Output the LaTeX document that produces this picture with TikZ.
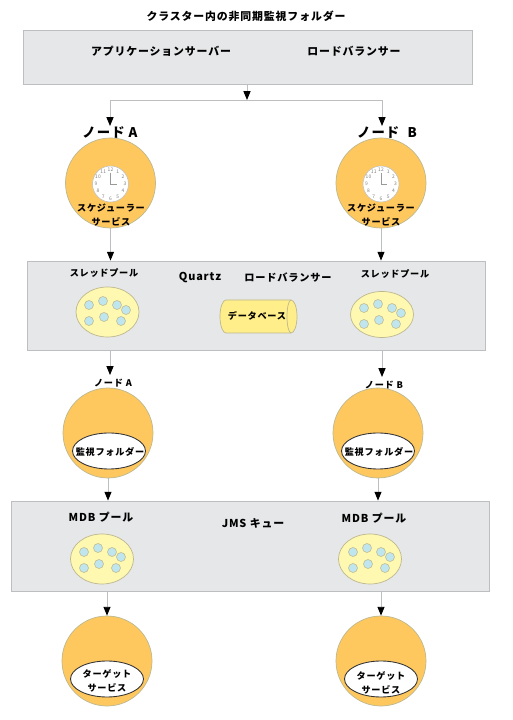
\documentclass[tikz,border=0pt]{standalone}
\usepackage{fontspec}
\setmainfont{Noto Sans CJK JP}[LetterSpace=8]
\usetikzlibrary{arrows.meta,shapes.geometric}

\def\px{0.02cm}
\definecolor{panelgray}{HTML}{E6E7E8}
\definecolor{edgegray}{HTML}{BCBEC0}
\definecolor{serviceorange}{HTML}{FFC85F}
\definecolor{poolyellow}{HTML}{FFF8B0}
\definecolor{ballblue}{HTML}{BFE6EE}
\definecolor{dbyellow}{HTML}{FFEE8A}
\definecolor{softedge}{HTML}{BDB88F}

\tikzset{
  panel/.style={draw=edgegray,fill=panelgray,line width=0.5pt,inner sep=0pt},
  service/.style={circle,draw=softedge,fill=serviceorange,line width=0.4pt,minimum size=90*\px,inner sep=0pt},
  window/.style={ellipse,draw=black!80,fill=white,line width=0.5pt,minimum width=73*\px,minimum height=36*\px,inner sep=0pt},
  pool/.style={ellipse,draw=softedge,fill=poolyellow,line width=0.4pt,minimum width=63*\px,inner sep=0pt},
  ball/.style={circle,draw=softedge,fill=ballblue,line width=0.3pt,minimum size=9*\px,inner sep=0pt},
  label/.style={inner sep=0pt,font=\fontsize{6.2}{8}\selectfont\bfseries},
  small/.style={inner sep=0pt,align=center,font=\fontsize{5.2}{7.6}\selectfont\bfseries},
  clocknum/.style={inner sep=0pt,text=gray,font=\fontsize{2.8}{3}\selectfont},
  link/.style={draw=edgegray,line width=0.5pt},
  flow/.style={link,-{Triangle[black,fill=black,length=5pt,width=4pt]}}
}

% seven threads around one point
\newcommand{\ballset}[3]{
  \foreach \bx/\by [count=\bi] in {-18/-7,-4/-11,10/-7,19/-2,-18/9,-3/5,14/9}
    \node [ball] (#1\bi) at (#2+\bx,#3-\by) {};
}
% clock face with hands
\newcommand{\clockface}[3]{
  \node [circle,fill=white,draw=edgegray,line width=0.3pt,minimum size=36*\px,inner sep=0pt] (#1) at (#2,#3) {};
  \foreach \h in {1,...,12}
    \node [clocknum] (#1num\h) at ({#2+14.5*sin(\h*30)},{#3+14.5*cos(\h*30)}) {\h};
  \coordinate (#1up) at (#2,#3+11);
  \coordinate (#1hand) at (#2+6,#3);
  \draw [gray!80,line width=0.4pt] (#1up) -- (#1.center) -- (#1hand);
}

\begin{document}
\begin{tikzpicture}[x=\px,y=\px]
\useasboundingbox (0,0) rectangle (512,720);
\fill [white] (0,0) rectangle (512,720);

\node [label] (title) at (246,704) {クラスター内の非同期監視フォルダー};

% application tier
\node [panel,minimum width=449*\px,minimum height=54*\px] (appbox) at (247.5,663) {};
\node [label] (appserver) at (161,669) {アプリケーションサーバー};
\node [label] (appbalancer) at (354,669) {ロードバランサー};
\coordinate (split) at (247,620);

\node [inner sep=0pt,font=\fontsize{7.6}{10}\selectfont\bfseries] (nodeA) at (110,587) {ノード A};
\node [inner sep=0pt,font=\fontsize{7.6}{10}\selectfont\bfseries] (nodeB) at (387,587) {ノード\ \ B};
\coordinate (topA) at (110,594);
\coordinate (topB) at (382,594);
\draw [flow] (appbox.south -| split) -- (split);
\draw [flow] (split) -| (topA);
\draw [flow] (split) -| (topB);

% scheduler services
\node [service] (schedA) at (110.5,537) {};
\node [service] (schedB) at (381,537) {};
\clockface{clockA}{110.5}{536}
\clockface{clockB}{381}{536}
\node [small] (schedtextA) at (111,505) {スケジューラー\\サービス};
\node [small] (schedtextB) at (381,505) {スケジューラー\\サービス};

% quartz tier
\node [panel,minimum width=458*\px,minimum height=89*\px] (quartzbox) at (256,414.5) {};
\node [small] (threadA) at (104,447) {スレッドプール};
\node [small] (threadB) at (395,446) {スレッドプール};
\node [label] (quartz) at (200,442) {Quartz};
\node [small,font=\fontsize{5.8}{8}\selectfont\bfseries] (quartzbalancer) at (288,442) {ロードバランサー};
\node [pool,minimum height=50*\px] (poolA) at (107.5,408) {};
\node [pool,minimum height=46*\px] (poolB) at (382,405.5) {};
\ballset{threadballA}{107}{408}
\ballset{threadballB}{382}{405}
\draw [softedge,fill=dbyellow,line width=0.4pt] (226,420) arc (90:270:6 and 16.5) -- (291,387) arc (-90:90:6 and 16.5) -- cycle;
\draw [softedge,line width=0.4pt] (291,420) arc (90:270:4 and 16.5);
\node [small] (dbtext) at (257,404) {データベース};
\draw [flow] (schedA) -- (schedA |- quartzbox.north);
\draw [flow] (schedB) -- (schedB |- quartzbox.north);

% watched folders
\node [small] (watchtitleA) at (113,337) {ノード A};
\node [small] (watchtitleB) at (384,335) {ノード B};
\node [service] (watchA) at (108,287) {};
\node [service] (watchB) at (378,287) {};
\node [window] (folderA) at (109,269) {};
\node [window] (folderB) at (378,269) {};
\node [small] (foldertextA) at (110,268) {監視フォルダー};
\node [small] (foldertextB) at (379,268) {監視フォルダー};
\coordinate (watchtopA) at (110,345);
\coordinate (watchtopB) at (382,343);
\draw [flow] (quartzbox.south -| watchtopA) -- (watchtopA);
\draw [flow] (quartzbox.south -| watchtopB) -- (watchtopB);

% jms tier
\node [panel,minimum width=478*\px,minimum height=90*\px] (jmsbox) at (250,174) {};
\node [label] (mdbA) at (101,203) {MDB プール};
\node [label] (mdbB) at (374,202) {MDB プール};
\node [label] (jms) at (253,197) {JMS キュー};
\node [pool,minimum height=50*\px] (mdbpoolA) at (102,161) {};
\node [pool,minimum height=50*\px] (mdbpoolB) at (370,161) {};
\ballset{mdbballA}{102}{161}
\ballset{mdbballB}{371}{161}
\draw [flow] (watchA) -- (watchA |- jmsbox.north);
\draw [flow] (watchB) -- (watchB |- jmsbox.north);

% target services
\node [service] (targetA) at (107,59) {};
\node [service] (targetB) at (381,59) {};
\node [window] (targetwinA) at (107,41) {};
\node [window] (targetwinB) at (381,41) {};
\node [small] (targettextA) at (107,39) {ターゲット\\サービス};
\node [small] (targettextB) at (381,37) {ターゲット\\サービス};
\draw [flow] (jmsbox.south -| targetA) -- (targetA.north);
\draw [flow] (jmsbox.south -| targetB) -- (targetB.north);
\end{tikzpicture}
\end{document}
